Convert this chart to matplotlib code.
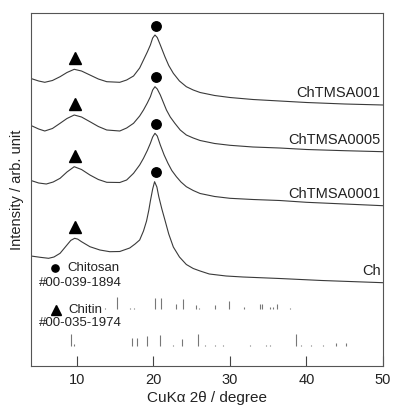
import matplotlib
matplotlib.use("Agg")
import matplotlib.pyplot as plt

plt.rcParams['font.family'] = ['Liberation Sans', 'DejaVu Sans']

# XRD profiles, intensity relative to each pattern's value at 50 deg
tta_001 = [4.0, 5.0, 5.8, 6.8, 7.8, 8.7, 9.65, 10.6, 11.7, 12.8, 13.9, 15.6, 16.5, 17.4, 18.2,
           18.7, 19.2, 19.6, 19.9, 20.2, 20.5, 20.9, 21.5, 22.0, 22.6, 23.4, 24.3, 25.2, 26.1,
           28, 30, 33, 36.5, 40, 45, 50]
int_001 = [26.5, 24, 22.7, 24.5, 28.3, 32.5, 35.7, 34, 30, 26, 23.3, 22.7, 25, 29, 37,
           45, 53, 60, 67, 70, 67.5, 60, 48.3, 39.5, 31.7, 24, 18.3, 15, 12.5,
           9.5, 7.5, 5.5, 4, 2.5, 1, 0]

tta_0005 = [4.0, 5.0, 5.8, 6.8, 7.8, 8.7, 9.65, 10.6, 11.7, 12.8, 13.9, 15.6, 16.5, 17.4, 18.2,
            18.7, 19.2, 19.6, 19.9, 20.2, 20.5, 20.9, 21.3, 21.7, 22.2, 22.8, 23.5, 24.3, 25.2,
            26.1, 28, 30, 33, 36.5, 40, 45, 50]
int_0005 = [26.2, 22.7, 20.7, 23.2, 28.4, 33.2, 36.7, 34.7, 30, 25.2, 21.7, 20.7, 23.7, 28.4, 35.7,
            41.7, 48.7, 55, 61.7, 65, 62.7, 56.7, 49.2, 41.7, 34.7, 28.4, 21.7, 16.7, 13.7,
            11.2, 8.2, 6.4, 4.7, 3.7, 2.2, 1, 0]

tta_0001 = [4.0, 5.0, 6.0, 6.9, 7.8, 8.7, 9.65, 10.6, 11.7, 12.8, 13.9, 15.6, 16.5, 17.4, 18.2,
            18.7, 19.2, 19.6, 19.9, 20.2, 20.5, 20.9, 21.4, 21.9, 22.4, 23.0, 23.6, 24.3, 25.2,
            26.1, 28, 30, 33, 36.5, 40, 45, 50]
int_0001 = [25.2, 22.7, 21.7, 23.7, 27.4, 33.7, 39, 36.2, 30.7, 26.2, 23.4, 23.2, 25.7, 32.4, 40.7,
            47.4, 55.2, 62.4, 68.7, 72.4, 69.7, 60.7, 50.7, 42.4, 35.2, 29, 23.7, 19, 15.2,
            12.2, 9.2, 7.4, 6.2, 5.2, 3.4, 1.7, 0]

tta_ch = [4.0, 5.2, 6.3, 7.0, 7.8, 8.7, 9.2, 9.7, 10.1, 10.6, 11.7, 13.0, 14.3, 15.6, 16.9,
          17.6, 18.2, 18.7, 19.1, 19.4, 19.6, 19.9, 20.15, 20.45, 20.7, 21.1, 21.5, 22.0, 22.6,
          23.4, 24.3, 25.2, 26.1, 27.3, 29.5, 31.7, 36.5, 42, 50]
int_ch = [26.7, 25.4, 24.4, 25.7, 29.4, 37.7, 42.3, 44.4, 43.6, 41, 36, 32.7, 31, 31.2, 34.7,
          38.7, 42.7, 51.7, 61.7, 72.7, 81.7, 93.7, 101, 95.7, 86, 73.7, 62.7, 48.7, 35.7,
          25.7, 18.2, 14.2, 11.7, 8.7, 6.7, 5.7, 4.2, 2.2, 0]

names = ['ChTMSA001', 'ChTMSA0005', 'ChTMSA0001', 'Ch']

# reference pattern lines (2theta, relative intensity)
chitosan_pos = [13.65, 15.2, 16.9, 17.5, 20.2, 21.0, 22.9, 23.8, 25.5, 26.0, 28.0, 29.9,
                31.8, 33.9, 34.15, 35.25, 35.6, 36.2, 37.8]
chitosan_int = [8, 100, 10, 10, 95, 95, 40, 85, 35, 10, 35, 70,
                15, 45, 45, 15, 15, 45, 10]
chitin_pos = [9.2, 9.6, 17.2, 17.85, 19.2, 20.9, 22.5, 23.7, 25.8, 26.7, 28.0, 29.1,
              32.6, 34.7, 35.2, 38.6, 39.3, 40.6, 42.1, 43.9, 45.2]
chitin_int = [100, 15, 65, 65, 85, 90, 12, 55, 100, 10, 10, 10,
              10, 10, 10, 100, 10, 10, 10, 25, 25]


def draw_patterns(ax):
    curves = [(tta_001, int_001), (tta_0005, int_0005), (tta_0001, int_0001), (tta_ch, int_ch)]
    offsets = [261, 214.3, 160.3, 83.3]
    for (tt, inten), off, name in zip(curves, offsets, names):
        y = [v + off for v in inten]
        ax.plot(tt, y, color='#3a3a3a', lw=0.8)
        # chitin peak near 10 deg, chitosan peak near 20 deg
        p10 = max(v for t, v in zip(tt, y) if 8 < t < 12)
        p20 = max(v for t, v in zip(tt, y) if 18 < t < 22)
        ax.plot(9.75, p10 + 11, marker='^', ms=8, color='black', ls='none')
        ax.plot(20.3, p20 + 9.5, marker='o', ms=6.8, color='black', ls='none')
        ax.text(49.7, y[-1] + 12, name, ha='right', va='center', fontsize=10.5, color='#222222')


def draw_references(ax):
    scale = 12 / 100
    base = 57
    ax.vlines(chitosan_pos, base, [base + v * scale for v in chitosan_int], color='#777777', lw=0.8)
    base = 20
    ax.vlines(chitin_pos, base, [base + v * scale for v in chitin_int], color='#777777', lw=0.8)

    ax.plot(7.15, 98, marker='o', ms=5.2, color='black', ls='none')
    ax.text(8.8, 98, 'Chitosan', fontsize=9.5, va='center', color='#222222')
    ax.text(5.1, 82.5, '#00-039-1894', fontsize=9.5, va='center', color='#222222')
    ax.plot(7.3, 56.5, marker='^', ms=6.5, color='black', ls='none')
    ax.text(8.85, 56, 'Chitin', fontsize=9.5, va='center', color='#222222')
    ax.text(5.1, 42.5, '#00-035-1974', fontsize=9.5, va='center', color='#222222')


def main():
    fig = plt.figure(figsize=(3.93, 4.08), dpi=100)
    ax = fig.add_axes([31 / 393, 1 - 366 / 408, 352 / 393, 353 / 408])

    draw_patterns(ax)
    draw_references(ax)

    ax.set_xlim(4, 50)
    ax.set_ylim(0, 353)
    ax.set_xticks([10, 20, 30, 40, 50])
    ax.set_yticks([])
    ax.tick_params(axis='x', direction='in', length=7, width=0.8, color='#444444',
                   labelsize=10.5, pad=5, labelcolor='#222222')
    for s in ax.spines.values():
        s.set_color('#555555')
        s.set_linewidth(0.8)

    ax.set_xlabel('CuKα 2θ / degree', fontsize=11, color='#222222', labelpad=3)
    ax.set_ylabel('Intensity / arb. unit', fontsize=10.5, color='#222222', labelpad=5)

    fig.savefig('out.png', dpi=100)


if __name__ == '__main__':
    main()
